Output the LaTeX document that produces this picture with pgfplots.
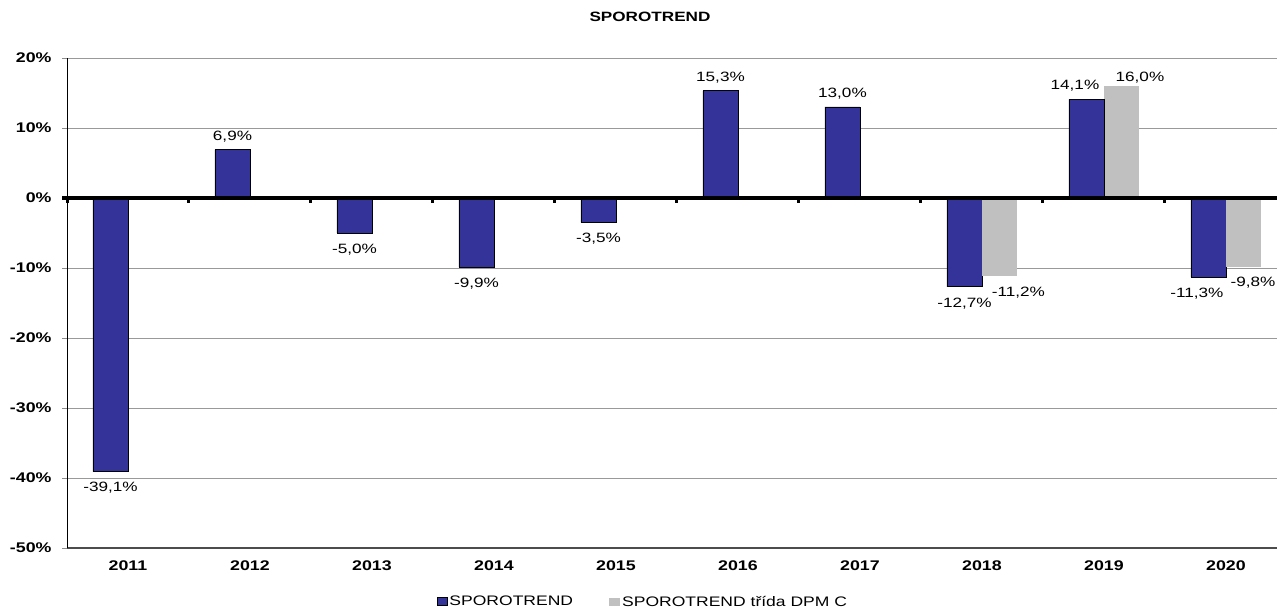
\documentclass[border=0pt]{standalone}
\usepackage{pgfplots}
\pgfplotsset{compat=1.18}
\usepackage{fontspec}
\setmainfont{Liberation Sans}[FakeStretch=1.27]
\definecolor{barblue}{HTML}{333399}
\definecolor{bargray}{HTML}{C0C0C0}
\newcommand{\lblfont}{\fontsize{13.5}{15}\selectfont}
\newcommand{\tickfont}{\bfseries\fontsize{14}{16}\selectfont}
\pgfplotsset{/pgf/number format/assume math mode=true}
\begin{document}
\begin{tikzpicture}[x=1pt,y=1pt]
\useasboundingbox (0,0) rectangle (1277,609);
\begin{axis}[
  at={(67pt,61pt)}, anchor=south west,
  width=1220pt, height=490pt, scale only axis,
  clip=false,
  xmin=-0.5, xmax=9.5, ymin=-50, ymax=20,
  axis x line*=bottom, axis y line*=left,
  x axis line style={black!70, line width=1.5pt},
  y axis line style={black, line width=1pt},
  xtick={0,...,9},
  xticklabels={2011,2012,2013,2014,2015,2016,2017,2018,2019,2020},
  xtick style={draw=none},
  xticklabel style={font=\tickfont, yshift=-4pt},
  ytick={-50,-40,...,20},
  yticklabel={\pgfmathprintnumber{\tick}\%},
  yticklabel style={font=\tickfont, xshift=-7pt},
  tick align=outside, major tick length=5pt,
  ytick style={black!45, line width=0.9pt},
  ymajorgrids, major grid style={black!40, line width=0.9pt},
  legend style={at={(0.472,-0.110)}, anchor=center, draw=none, legend columns=2,
    font=\fontsize{13.8}{15}\selectfont, inner sep=0pt,
    /tikz/every even column/.append style={column sep=34pt}},
  every node near coord/.append style={font=\lblfont, text=black, inner sep=6pt,
    text height=13.8pt, text depth=3.2pt},
]
\addplot[ybar, bar width=35pt, bar shift=-17.5pt, fill=barblue, draw=black, line width=0.9pt,
  nodes near coords={\pgfmathprintnumber[fixed,fixed zerofill,precision=1,use comma]{\pgfplotspointmeta}\%},
  every node near coord/.append style={xshift=-17.5pt},
  legend image code/.code={\draw[fill=barblue, draw=black, line width=0.9pt] (0pt,-4pt) rectangle (10pt,4pt);}]
  coordinates {(0,-39.1) (1,6.9) (2,-5.0) (3,-9.9) (4,-3.5) (5,15.3) (6,13.0) (7,-12.7)};
\addlegendentry{SPOROTREND}
\addplot[ybar, bar width=35pt, bar shift=17.5pt, fill=bargray, draw=none,
  nodes near coords={\pgfmathprintnumber[fixed,fixed zerofill,precision=1,use comma]{\pgfplotspointmeta}\%},
  every node near coord/.append style={xshift=36.5pt},
  legend image code/.code={\fill[bargray] (0pt,-4pt) rectangle (11pt,4pt);}]
  coordinates {(7,-11.2)};
\addlegendentry{SPOROTREND třída DPM C}
\addplot[ybar, bar width=35pt, bar shift=17.5pt, fill=bargray, draw=none, forget plot,
  nodes near coords={\pgfmathprintnumber[fixed,fixed zerofill,precision=1,use comma]{\pgfplotspointmeta}\%},
  every node near coord/.append style={xshift=36pt, yshift=-5pt}]
  coordinates {(8,16.0)};
\addplot[ybar, bar width=35pt, bar shift=-17.5pt, fill=barblue, draw=black, line width=0.9pt, forget plot,
  nodes near coords={\pgfmathprintnumber[fixed,fixed zerofill,precision=1,use comma]{\pgfplotspointmeta}\%},
  every node near coord/.append style={xshift=-29pt}]
  coordinates {(8,14.1) (9,-11.3)};
\addplot[ybar, bar width=35pt, bar shift=17.5pt, fill=bargray, draw=none, forget plot,
  nodes near coords={\pgfmathprintnumber[fixed,fixed zerofill,precision=1,use comma]{\pgfplotspointmeta}\%},
  every node near coord/.append style={xshift=27pt}]
  coordinates {(9,-9.8)};
\draw[black, line width=3.5pt] ([xshift=-5pt]axis cs:-0.5,0) -- (axis cs:9.5,0);
\pgfplotsinvokeforeach{-0.5,0.5,1.5,2.5,3.5,4.5,5.5,6.5,7.5,8.5}{
  \draw[black, line width=3pt] ([yshift=-1pt]axis cs:#1,0) -- ([yshift=-5pt]axis cs:#1,0);
}
\end{axis}
\node[font=\bfseries\fontsize{13.5}{15}\selectfont] at (650,592) {SPOROTREND};
\end{tikzpicture}
\end{document}
